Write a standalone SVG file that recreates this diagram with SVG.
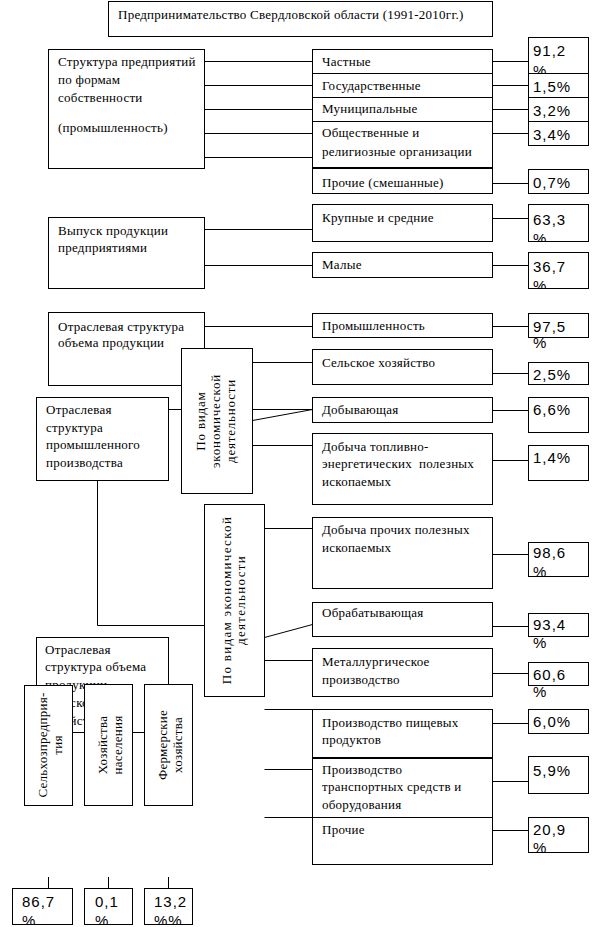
<svg xmlns="http://www.w3.org/2000/svg" width="601" height="927" viewBox="0 0 601 927">
<style>
.box{fill:#fff;stroke:#000;stroke-width:1}
.ln{fill:none;stroke:#000;stroke-width:1}
.thick{fill:none;stroke:#000;stroke-width:2}
.t{font-family:"Liberation Serif","Times New Roman",serif;font-size:13px;letter-spacing:0.25px;fill:#000}
.p{font-family:"Liberation Sans",Arial,sans-serif;font-size:15px;letter-spacing:1px;fill:#000}
.w1{letter-spacing:0.8px}
.w2{letter-spacing:1.3px}
</style>
<defs>
<clipPath id="c1"><rect x="528" y="37" width="61" height="36"/></clipPath>
<clipPath id="c2"><rect x="528" y="204" width="61" height="37"/></clipPath>
<clipPath id="c3"><rect x="528" y="252" width="61" height="36"/></clipPath>
<clipPath id="c4"><rect x="528" y="542" width="61" height="34"/></clipPath>
<clipPath id="c5"><rect x="528" y="817" width="61" height="35"/></clipPath>
<clipPath id="c6"><rect x="0" y="888" width="601" height="36"/></clipPath>
</defs>
<rect width="601" height="927" fill="#fff"/>

<g id="connectors">
<path class="ln" d="M204.5 61.5H312.5M204.5 85.5H312.5M204.5 109.5H312.5M204.5 133.5H312.5M204.5 157.5H312.5"/>
<path class="ln" d="M492.5 61.5H528.5M492.5 85.5H528.5M492.5 109.5H528.5M492.5 133.5H528.5M492.5 183.5H528.5"/>
<path class="ln" d="M204.5 229.5H312.5M204.5 265.5H312.5M492.5 218.5H528.5M492.5 265.5H528.5"/>
<path class="ln" d="M204.5 326.5H312.5M492.5 326.5H528.5"/>
<path class="ln" d="M252.5 362.5H312.5M492.5 373.5H528.5"/>
<path class="ln" d="M168.5 409.5H181.5M252.5 409.5H312.5M252.5 420.5L312.5 409.5M492.5 410.5H528.5"/>
<path class="ln" d="M252.5 445.5H312.5M492.5 460.5H528.5"/>
<path class="ln" d="M97.5 480.5V625.5H204.5"/>
<path class="ln" d="M264.5 528.5H312.5M492.5 554.5H528.5"/>
<path class="ln" d="M264.5 637.5L312.5 624.5M492.5 626.5H528.5"/>
<path class="ln" d="M264.5 660.5H312.5M492.5 673.5H528.5"/>
<path class="ln" d="M264.5 709.5H312.5M264.5 769.5H312.5M264.5 817.5H312.5"/>
<path class="ln" d="M492.5 723.5H528.5M492.5 781.5H528.5M492.5 830.5H528.5"/>
<path class="ln" d="M48.5 877V888M108.5 877V888M168.5 877V888"/>
</g>

<g id="title">
<rect class="box" x="108.5" y="1.5" width="384" height="35"/>
<text class="t" x="118" y="19">Предпринимательство Свердловской области (1991-2010гг.)</text>
</g>

<g id="ownership">
<rect class="box" x="48.5" y="49.5" width="156" height="119"/>
<text class="t" x="58" y="66">Структура предприятий</text>
<text class="t" x="58" y="84">по формам</text>
<text class="t" x="58" y="102">собственности</text>
<text class="t" x="58" y="132">(промышленность)</text>
</g>

<g id="private"><rect class="box" x="312.5" y="49.5" width="180" height="24"/><text class="t" x="322" y="66">Частные</text></g>
<g id="state"><rect class="box" x="312.5" y="73.5" width="180" height="24"/><text class="t" x="322" y="90">Государственные</text></g>
<g id="municipal"><rect class="box" x="312.5" y="97.5" width="180" height="24"/><text class="t" x="322" y="113">Муниципальные</text></g>
<g id="public"><rect class="box" x="312.5" y="121.5" width="180" height="46"/><text class="t" x="322" y="137">Общественные и</text><text class="t" x="322" y="156">религиозные организации</text></g>
<g id="mixed"><rect class="box" x="312.5" y="167.5" width="180" height="26"/><line class="thick" x1="312" y1="168" x2="493" y2="168"/><text class="t" x="322" y="187">Прочие (смешанные)</text></g>

<g id="p912"><rect class="box" x="528.5" y="37.5" width="60" height="36"/><g clip-path="url(#c1)"><text class="p" x="533" y="56">91,2</text><text class="p" x="533" y="76">%</text></g></g>
<g id="p15"><rect class="box" x="528.5" y="73.5" width="60" height="24"/><text class="p" x="533" y="92">1,5%</text></g>
<g id="p32"><rect class="box" x="528.5" y="97.5" width="60" height="24"/><text class="p" x="533" y="116">3,2%</text></g>
<g id="p34"><rect class="box" x="528.5" y="121.5" width="60" height="24"/><text class="p" x="533" y="140">3,4%</text></g>
<g id="p07"><rect class="box" x="528.5" y="169.5" width="60" height="24"/><text class="p" x="533" y="188">0,7%</text></g>

<g id="output">
<rect class="box" x="48.5" y="217.5" width="156" height="71"/>
<text class="t" x="58" y="235">Выпуск продукции</text>
<text class="t" x="58" y="252">предприятиями</text>
</g>
<g id="large"><rect class="box" x="312.5" y="204.5" width="180" height="37"/><text class="t" x="322" y="222">Крупные и средние</text></g>
<g id="small"><rect class="box" x="312.5" y="252.5" width="180" height="25"/><text class="t" x="322" y="269">Малые</text></g>
<g id="p633"><rect class="box" x="528.5" y="204.5" width="60" height="37"/><g clip-path="url(#c2)"><text class="p" x="533" y="225">63,3</text><text class="p" x="533" y="244">%</text></g></g>
<g id="p367"><rect class="box" x="528.5" y="252.5" width="60" height="36"/><g clip-path="url(#c3)"><text class="p" x="533" y="272">36,7</text><text class="p" x="533" y="291">%</text></g></g>

<g id="sector">
<rect class="box" x="48.5" y="312.5" width="156" height="73"/>
<text class="t" x="58" y="331">Отраслевая структура</text>
<text class="t" x="58" y="347">объема продукции</text>
</g>
<g id="industry"><rect class="box" x="312.5" y="313.5" width="180" height="24"/><text class="t" x="322" y="330">Промышленность</text></g>
<g id="p975"><rect class="box" x="528.5" y="313.5" width="60" height="24"/><text class="p" x="533" y="332">97,5</text><text class="p" x="533" y="348">%</text></g>
<g id="agri"><rect class="box" x="312.5" y="349.5" width="180" height="35"/><text class="t" x="322" y="367">Сельское хозяйство</text></g>
<g id="p25"><rect class="box" x="528.5" y="362.5" width="60" height="22"/><text class="p" x="533" y="380">2,5%</text></g>

<g id="kinds1">
<rect class="box" x="181.5" y="348.5" width="71" height="145"/>
<text class="t w1" text-anchor="middle" transform="translate(205 421) rotate(-90)">По видам</text>
<text class="t w1" text-anchor="middle" transform="translate(220 421) rotate(-90)">экономической</text>
<text class="t w1" text-anchor="middle" transform="translate(235 421) rotate(-90)">деятельности</text>
</g>

<g id="indprod">
<rect class="box" x="36.5" y="397.5" width="132" height="83"/>
<text class="t" x="46" y="414">Отраслевая</text>
<text class="t" x="46" y="432">структура</text>
<text class="t" x="46" y="449">промышленного</text>
<text class="t" x="46" y="467">производства</text>
</g>

<g id="mining"><rect class="box" x="312.5" y="397.5" width="180" height="25"/><text class="t" x="322" y="414">Добывающая</text></g>
<g id="p66"><rect class="box" x="528.5" y="397.5" width="60" height="35"/><text class="p" x="533" y="415">6,6%</text></g>
<g id="fuel"><rect class="box" x="312.5" y="433.5" width="180" height="71"/><text class="t" x="322" y="451">Добыча топливно-</text><text class="t" x="322" y="468" xml:space="preserve">энергетических  полезных</text><text class="t" x="322" y="486">ископаемых</text></g>
<g id="p14"><rect class="box" x="528.5" y="445.5" width="60" height="35"/><text class="p" x="533" y="463">1,4%</text></g>

<g id="kinds2">
<rect class="box" x="204.5" y="504.5" width="60" height="192"/>
<text class="t w2" text-anchor="middle" transform="translate(231 600) rotate(-90)">По видам экономической</text>
<text class="t w2" text-anchor="middle" transform="translate(245 600) rotate(-90)">деятельности</text>
</g>

<g id="othermin"><rect class="box" x="312.5" y="517.5" width="180" height="71"/><text class="t" x="322" y="534">Добыча прочих полезных</text><text class="t" x="322" y="552">ископаемых</text></g>
<g id="p986"><rect class="box" x="528.5" y="542.5" width="60" height="34"/><g clip-path="url(#c4)"><text class="p" x="533" y="558">98,6</text><text class="p" x="533" y="577">%</text></g></g>
<g id="manuf"><rect class="box" x="312.5" y="602.5" width="180" height="34"/><text class="t" x="322" y="617">Обрабатывающая</text></g>
<g id="p934"><rect class="box" x="528.5" y="613.5" width="60" height="23"/><text class="p" x="533" y="630">93,4</text><text class="p" x="533" y="648">%</text></g>
<g id="metal"><rect class="box" x="312.5" y="648.5" width="180" height="48"/><text class="t" x="322" y="666">Металлургическое</text><text class="t" x="322" y="684">производство</text></g>
<g id="p606"><rect class="box" x="528.5" y="662.5" width="60" height="23"/><text class="p" x="533" y="680">60,6</text><text class="p" x="533" y="697">%</text></g>
<g id="food"><rect class="box" x="312.5" y="709.5" width="180" height="48"/><text class="t" x="322" y="727">Производство пищевых</text><text class="t" x="322" y="744">продуктов</text></g>
<g id="p60"><rect class="box" x="528.5" y="709.5" width="60" height="24"/><text class="p" x="533" y="727">6,0%</text></g>
<g id="transport"><rect class="box" x="312.5" y="757.5" width="180" height="60"/><line class="thick" x1="312" y1="758" x2="493" y2="758"/><text class="t" x="322" y="774">Производство</text><text class="t" x="322" y="791">транспортных средств и</text><text class="t" x="322" y="809">оборудования</text></g>
<g id="p59"><rect class="box" x="528.5" y="756.5" width="60" height="37"/><text class="p" x="533" y="776">5,9%</text></g>
<g id="other"><rect class="box" x="312.5" y="817.5" width="180" height="47"/><text class="t" x="322" y="834">Прочие</text></g>
<g id="p209"><rect class="box" x="528.5" y="817.5" width="60" height="35"/><g clip-path="url(#c5)"><text class="p" x="533" y="835">20,9</text><text class="p" x="533" y="853">%</text></g></g>

<g id="agrisector">
<rect class="box" x="36.5" y="637.5" width="132" height="95"/>
<text class="t" x="45" y="654">Отраслевая</text>
<text class="t" x="45" y="671">структура объема</text>
<text class="t" x="45" y="689">продукции</text>
<text class="t" x="45" y="707">сельского</text>
<text class="t" x="45" y="725">хозяйства</text>
</g>
<g id="agrient"><rect class="box" x="24.5" y="685.5" width="48" height="120"/>
<text class="t" text-anchor="middle" transform="translate(47 745) rotate(-90)">Сельхозпредприя-</text>
<text class="t" text-anchor="middle" transform="translate(62 745) rotate(-90)">тия</text></g>
<g id="households"><rect class="box" x="84.5" y="684.5" width="48" height="121"/>
<text class="t" text-anchor="middle" transform="translate(107 745) rotate(-90)">Хозяйства</text>
<text class="t" text-anchor="middle" transform="translate(122 745) rotate(-90)">населения</text></g>
<g id="farms"><rect class="box" x="144.5" y="684.5" width="48" height="121"/>
<text class="t" text-anchor="middle" transform="translate(167 745) rotate(-90)">Фермерские</text>
<text class="t" text-anchor="middle" transform="translate(182 745) rotate(-90)">хозяйства</text></g>

<g id="p867"><rect class="box" x="12.5" y="888.5" width="60" height="36"/><g clip-path="url(#c6)"><text class="p" x="22" y="907">86,7</text><text class="p" x="22" y="926">%</text></g></g>
<g id="p01"><rect class="box" x="84.5" y="888.5" width="48" height="36"/><g clip-path="url(#c6)"><text class="p" x="95" y="907">0,1</text><text class="p" x="95" y="926">%</text></g></g>
<g id="p132"><rect class="box" x="144.5" y="888.5" width="48" height="36"/><g clip-path="url(#c6)"><text class="p" x="154" y="907">13,2</text><text class="p" x="154" y="926">%%</text></g></g>
</svg>
